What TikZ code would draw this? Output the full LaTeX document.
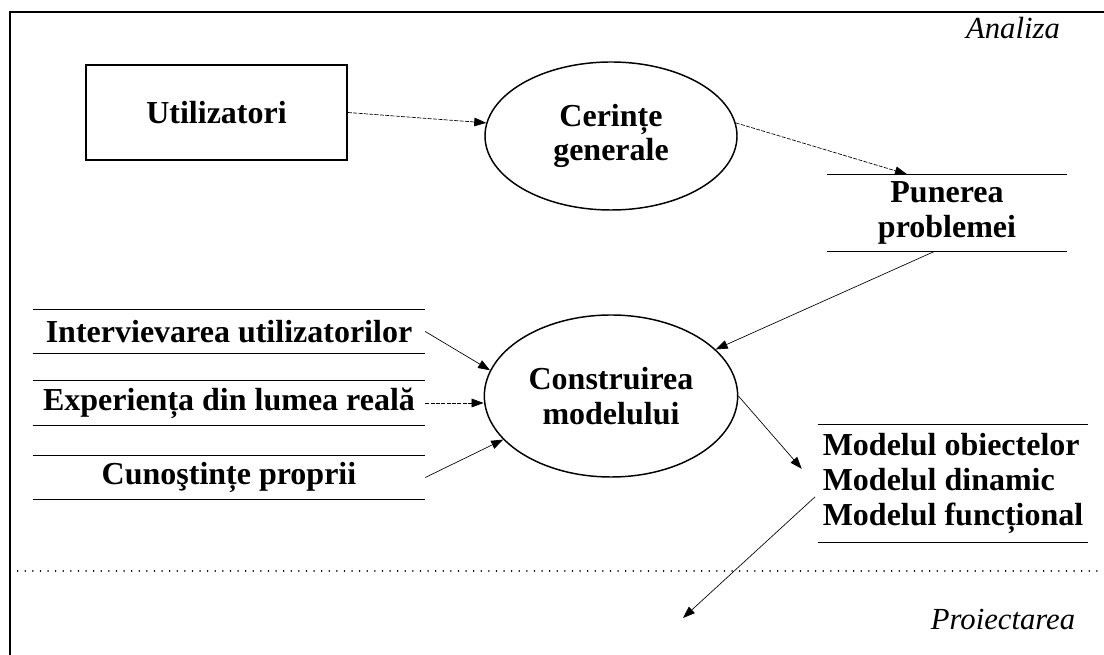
\documentclass[tikz,border=0pt]{standalone}
\usepackage{fontspec}
\setmainfont{Liberation Serif}
\usetikzlibrary{positioning,arrows.meta,shapes.geometric}

\begin{document}
\begin{tikzpicture}[x=0.75pt, y=-0.75pt, >={Triangle[length=9pt,width=6.5pt]},
    lbl/.style={font=\fontsize{24}{26}\selectfont\bfseries, align=center},
    actor/.style={lbl, draw, line width=1.1pt, minimum width=196pt, minimum height=71pt},
    proc/.style={lbl, ellipse, draw, line width=1.1pt, inner sep=0pt},
    store/.style={lbl, minimum width=294pt, minimum height=33pt, inner sep=0pt},
    rule/.style={line width=1pt},
    flow/.style={->, line width=0.5pt},
    faint/.style={flow, dash pattern=on 3pt off 1pt},
    phase/.style={font=\fontsize{23}{26}\selectfont\itshape}]
  \useasboundingbox (0,0) rectangle (1104,655);
  % frame and phase border
  \draw[line width=1.2pt] (10,655) -- (10,12) -- (1104,12);
  \draw[line width=1.1pt, line cap=round, dash pattern=on 0.1pt off 5.6pt] (10,571) -- (1104,571);
  \node[phase] (an) at (1013,28) {Analiza};
  \node[phase] (pr) at (1003,620) {Proiectarea};

  \node[actor] (u) at (216.5,112.5) {Utilizatori};
  \node[proc, minimum width=189pt, minimum height=111pt] (cg) at (611,136) {Cerințe\\generale};
  \node[proc, minimum width=190pt, minimum height=121.5pt] (cm) at (611,396) {Construirea\\modelului};
  \node[store, minimum width=180pt, minimum height=57.75pt] (pp) at (947,213) {Punerea\\problemei};
  \node[store] (iu) at (229,331.5) {Intervievarea utilizatorilor};
  \node[store] (er) at (229,403) {Experiența din lumea reală};
  \node[store] (cp) at (229,477.5) {Cunoştințe proprii};
  \node[store, minimum width=202.5pt, minimum height=87.75pt, align=left] (mm) at (953,483.5) {Modelul obiectelor\\Modelul dinamic\\Modelul funcțional};

  % store lines
  \draw[rule] (pp.north west) -- (pp.north east) (pp.south west) -- (pp.south east);
  \draw[rule] (iu.north west) -- (iu.north east) (iu.south west) -- (iu.south east);
  \draw[rule] (er.north west) -- (er.north east) (er.south west) -- (er.south east);
  \draw[rule] (cp.north west) -- (cp.north east) (cp.south west) -- (cp.south east);
  \draw[rule] (mm.north west) -- (mm.north east) (mm.south west) -- (mm.south east);

  \draw[faint] (u.east) -- (cg.174);
  \draw[faint] (cg.6) -- ([xshift=-30pt]pp.north);
  \draw[flow] ([xshift=-10pt]pp.south) -- (cm.24);
  \draw[flow] (iu.east) -- (cm.168);
  \draw[faint] (er.east) -- (er.east -| cm.west);
  \draw[flow] (cp.east) -- (cm.202);
  \draw[flow] (cm.east) -- ([xshift=-12pt, yshift=11pt]mm.west);
  \coordinate (pj) at (683,618);
  \draw[flow] ([xshift=-2pt, yshift=-10pt]mm.west) -- (pj);
\end{tikzpicture}
\end{document}
